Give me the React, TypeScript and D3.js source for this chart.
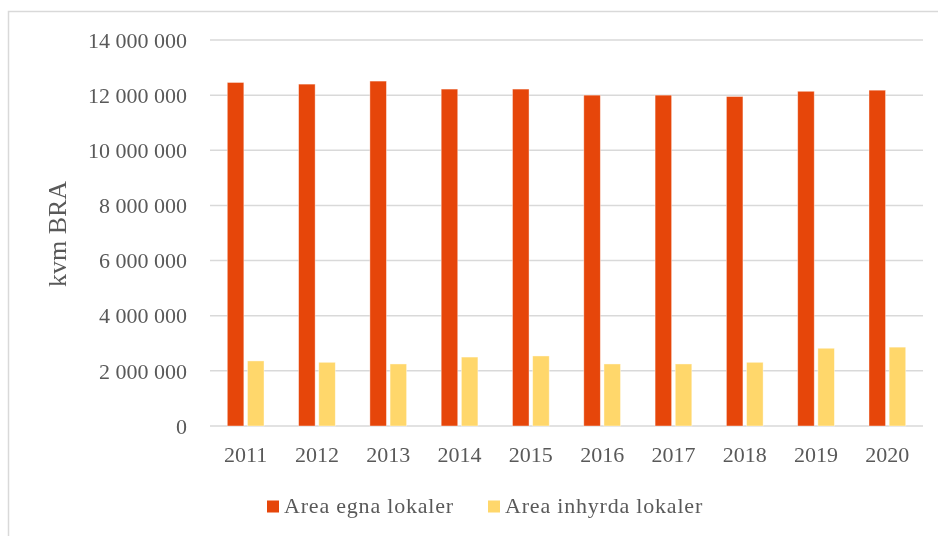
import { useEffect, useRef } from "react";
import * as d3 from "d3";

const years = ["2011", "2012", "2013", "2014", "2015", "2016", "2017", "2018", "2019", "2020"];
const egna = [12460000, 12400000, 12510000, 12220000, 12220000, 12000000, 12000000, 11950000, 12140000, 12180000];
const inhyrda = [2360000, 2310000, 2250000, 2500000, 2540000, 2250000, 2250000, 2310000, 2820000, 2860000];
const seriesNames = ["Area egna lokaler", "Area inhyrda lokaler"];
const seriesColors = ["#E6460A", "#FFD76B"];
const yTicks = [0, 2000000, 4000000, 6000000, 8000000, 10000000, 12000000, 14000000];

const W = 938;
const H = 536;

const fmt = (v: number) => d3.format(",")(v).replace(/,/g, " ");

export default function App() {
  const svgRef = useRef<SVGSVGElement>(null);

  useEffect(() => {
    const svg = d3.select(svgRef.current);
    svg.selectAll("*").remove();

    const font = "'Liberation Serif', 'Times New Roman', serif";
    const margin = { top: 40, right: 15, bottom: 110, left: 210 };

    // frame (only left and top edges show in the crop)
    svg.append("path")
      .attr("d", `M8.5,${H} V11.5 H${W}`)
      .attr("fill", "none")
      .attr("stroke", "#D9D9D9")
      .attr("stroke-width", 1.5);

    const x = d3.scaleBand()
      .domain(years)
      .range([margin.left, W - margin.right])
      .paddingInner(0.485)
      .paddingOuter(0.2425);

    const xInner = d3.scaleBand()
      .domain(seriesNames)
      .range([0, x.bandwidth()])
      .paddingInner(0.18);

    const y = d3.scaleLinear()
      .domain([0, 14000000])
      .range([H - margin.bottom, margin.top]);

    // gridlines
    svg.append("g")
      .selectAll("line")
      .data(yTicks)
      .join("line")
      .attr("x1", margin.left)
      .attr("x2", W - margin.right)
      .attr("y1", (d) => y(d))
      .attr("y2", (d) => y(d))
      .attr("stroke", "#D9D9D9")
      .attr("stroke-width", 1.5);

    // y tick labels
    svg.append("g")
      .selectAll("text")
      .data(yTicks)
      .join("text")
      .attr("x", 187)
      .attr("y", (d) => y(d))
      .attr("dy", "0.35em")
      .attr("text-anchor", "end")
      .attr("font-family", font)
      .attr("font-size", 22)
      .attr("fill", "#595959")
      .text((d) => fmt(d));

    // bars
    const data = [egna, inhyrda];
    data.forEach((vals, si) => {
      svg.append("g")
        .selectAll("rect")
        .data(vals)
        .join("rect")
        .attr("x", (_, i) => (x(years[i]) ?? 0) + (xInner(seriesNames[si]) ?? 0))
        .attr("y", (d) => y(d))
        .attr("width", xInner.bandwidth())
        .attr("height", (d) => y(0) - y(d))
        .attr("fill", seriesColors[si])
        .attr("stroke", "#fff")
        .attr("stroke-opacity", 0.5)
        .attr("stroke-width", 0.8);
    });

    // x labels
    svg.append("g")
      .selectAll("text")
      .data(years)
      .join("text")
      .attr("x", (d) => (x(d) ?? 0) + x.bandwidth() / 2)
      .attr("y", 462)
      .attr("text-anchor", "middle")
      .attr("font-family", font)
      .attr("font-size", 22)
      .attr("fill", "#595959")
      .text((d) => d);

    // y axis title
    svg.append("text")
      .attr("transform", `translate(66,234) rotate(-90)`)
      .attr("text-anchor", "middle")
      .attr("font-family", font)
      .attr("font-size", 26)
      .attr("fill", "#595959")
      .text("kvm BRA");

    // legend
    const legendX = [267, 488];
    seriesNames.forEach((name, i) => {
      const g = svg.append("g").attr("transform", `translate(${legendX[i]},0)`);
      g.append("rect")
        .attr("x", 0).attr("y", 500.5)
        .attr("width", 12).attr("height", 12)
        .attr("fill", seriesColors[i]);
      g.append("text")
        .attr("x", 17).attr("y", 513)
        .attr("font-family", font)
        .attr("font-size", 22)
        .attr("letter-spacing", 0.8)
        .attr("fill", "#595959")
        .text(name);
    });
  }, []);

  return (
    <div style={{ position: "fixed", left: 0, top: 0 }}>
      <svg ref={svgRef} width={W} height={H} style={{ display: "block" }} />
    </div>
  );
}
